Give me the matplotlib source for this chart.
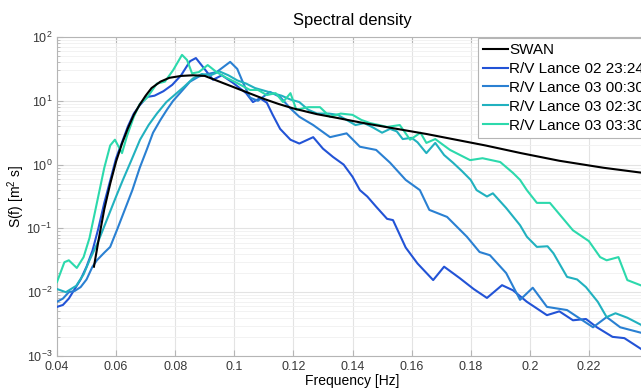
import numpy as np
import matplotlib
matplotlib.use("Agg")
import matplotlib.pyplot as plt
from matplotlib.ticker import LogLocator, NullFormatter

plt.rcParams['font.family'] = ['Liberation Sans', 'DejaVu Sans']
plt.rcParams['mathtext.fontset'] = 'custom'
plt.rcParams['mathtext.rm'] = 'Liberation Sans'
plt.rcParams['mathtext.it'] = 'Liberation Sans:italic'

# SWAN model spectrum (frequency [Hz], log10 S)
swan_f = [0.0525, 0.054, 0.056, 0.058, 0.060, 0.062, 0.064, 0.066,
          0.068, 0.070, 0.072, 0.075, 0.078, 0.082, 0.086, 0.090, 0.095, 0.100,
          0.105, 0.110, 0.115, 0.120, 0.128, 0.135, 0.145, 0.155, 0.165, 0.175,
          0.185, 0.197, 0.210, 0.225, 0.240]
swan_log = [-1.6, -1.2, -0.7, -0.3, 0.05, 0.33, 0.57, 0.78,
            0.94, 1.08, 1.2, 1.3, 1.36, 1.39, 1.40, 1.39, 1.3, 1.21,
            1.12, 1.03, 0.95, 0.88, 0.79, 0.73, 0.64, 0.56, 0.48, 0.39,
            0.30, 0.18, 0.06, -0.05, -0.14]

# R/V Lance 02 23:24
a_f = [0.040, 0.042, 0.044, 0.046, 0.048, 0.050, 0.052, 0.054, 0.056, 0.058,
       0.060, 0.062, 0.064, 0.066, 0.068, 0.0705, 0.073, 0.076, 0.079, 0.082,
       0.085, 0.087, 0.0894, 0.0928, 0.0958, 0.0996, 0.104, 0.1063, 0.1087, 0.111,
       0.113, 0.1155, 0.119, 0.122, 0.1267, 0.130, 0.1334, 0.137, 0.140, 0.1425,
       0.145, 0.148, 0.1517, 0.1537, 0.158, 0.162, 0.1673, 0.171, 0.1763, 0.181,
       0.1855, 0.1906, 0.1943, 0.199, 0.2058, 0.210, 0.2146, 0.219, 0.2227, 0.228,
       0.232, 0.238]
a_log = [-2.23, -2.2, -2.1, -1.95, -1.8, -1.6, -1.35, -1.0, -0.6, -0.25,
         0.1, 0.35, 0.6, 0.8, 0.93, 1.06, 1.08, 1.15, 1.25, 1.4,
         1.62, 1.67, 1.53, 1.33, 1.40, 1.28, 1.12, 0.98, 1.04, 0.97,
         0.78, 0.56, 0.39, 0.33, 0.43, 0.25, 0.12, 0.0, -0.19, -0.40,
         -0.5, -0.66, -0.85, -0.87, -1.3, -1.55, -1.81, -1.6, -1.78, -1.95,
         -2.09, -1.89, -1.97, -2.15, -2.36, -2.30, -2.44, -2.42, -2.55, -2.70,
         -2.72, -2.9]

# R/V Lance 03 00:30
b_f = [0.040, 0.042, 0.044, 0.046, 0.048, 0.050, 0.052, 0.0535, 0.056, 0.058,
       0.0605, 0.063, 0.0655, 0.068, 0.0705, 0.0725, 0.075, 0.0772, 0.0793, 0.0816,
       0.085, 0.088, 0.091, 0.094, 0.0986, 0.101, 0.103, 0.1053, 0.108, 0.112,
       0.1155, 0.119, 0.122, 0.1267, 0.1324, 0.138, 0.1425, 0.148, 0.1527, 0.158,
       0.1628, 0.166, 0.172, 0.1787, 0.183, 0.1865, 0.192, 0.1967, 0.201, 0.2058,
       0.2126, 0.2214, 0.226, 0.2306, 0.238]
b_log = [-2.15, -2.1, -2.0, -1.98, -1.92, -1.8, -1.6, -1.5, -1.38, -1.29,
         -1.0, -0.7, -0.4, -0.05, 0.25, 0.5, 0.7, 0.86, 1.0, 1.12,
         1.3, 1.38, 1.42, 1.45, 1.61, 1.5, 1.28, 1.05, 1.0, 1.14,
         1.06, 0.88, 0.75, 0.62, 0.43, 0.49, 0.28, 0.23, 0.03, -0.24,
         -0.40, -0.71, -0.82, -1.13, -1.37, -1.42, -1.70, -2.12, -1.93, -2.23,
         -2.28, -2.55, -2.39, -2.55, -2.64]

# R/V Lance 03 02:30
c_f = [0.040, 0.043, 0.0465, 0.049, 0.051, 0.054, 0.057, 0.060, 0.0623, 0.065,
       0.0681, 0.071, 0.0738, 0.077, 0.080, 0.083, 0.086, 0.089, 0.092, 0.095,
       0.098, 0.101, 0.104, 0.107, 0.110, 0.113, 0.116, 0.119, 0.122, 0.125,
       0.128, 0.132, 0.135, 0.138, 0.141, 0.144, 0.147, 0.150, 0.1527, 0.155,
       0.157, 0.160, 0.162, 0.165, 0.168, 0.171, 0.174, 0.177, 0.180, 0.182,
       0.1855, 0.1875, 0.192, 0.1967, 0.199, 0.2024, 0.206, 0.208, 0.2126, 0.216,
       0.219, 0.223, 0.226, 0.229, 0.233, 0.238]
c_log = [-1.95, -2.0, -1.9, -1.72, -1.5, -1.2, -0.85, -0.5, -0.24, 0.05,
         0.39, 0.62, 0.8, 0.98, 1.1, 1.22, 1.35, 1.42, 1.40, 1.46,
         1.40, 1.32, 1.27, 1.2, 1.16, 1.12, 1.08, 1.02, 0.98, 0.86,
         0.80, 0.80, 0.78, 0.70, 0.62, 0.65, 0.58, 0.50, 0.56, 0.52,
         0.40, 0.42, 0.35, 0.18, 0.34, 0.15, 0.03, -0.1, -0.24, -0.40,
         -0.50, -0.45, -0.68, -0.95, -1.13, -1.29, -1.28, -1.39, -1.76, -1.8,
         -1.92, -2.15, -2.39, -2.33, -2.40, -2.52]

# R/V Lance 03 03:30
d_f = [0.040, 0.0425, 0.044, 0.0467, 0.049, 0.051, 0.0535, 0.056, 0.058, 0.0596,
       0.062, 0.0637, 0.066, 0.068, 0.0705, 0.0738, 0.0765, 0.0793, 0.0823, 0.084,
       0.0857, 0.088, 0.091, 0.094, 0.0969, 0.1009, 0.1053, 0.108, 0.111, 0.114,
       0.1165, 0.119, 0.121, 0.125, 0.129, 0.1324, 0.136, 0.140, 0.143, 0.146,
       0.149, 0.1517, 0.156, 0.1595, 0.163, 0.165, 0.168, 0.173, 0.1798, 0.184,
       0.190, 0.1943, 0.1967, 0.199, 0.2024, 0.2068, 0.2146, 0.220, 0.2238, 0.226,
       0.230, 0.233, 0.238]
d_log = [-1.84, -1.53, -1.5, -1.62, -1.45, -1.15, -0.6, -0.05, 0.3, 0.39,
         0.18, 0.45, 0.75, 0.95, 1.05, 1.27, 1.3, 1.48, 1.72, 1.64,
         1.43, 1.45, 1.56, 1.45, 1.37, 1.28, 1.17, 1.17, 1.09, 1.12,
         0.98, 1.12, 0.86, 0.9, 0.9, 0.75, 0.8, 0.78, 0.7, 0.65,
         0.62, 0.59, 0.62, 0.39, 0.5, 0.34, 0.40, 0.23, 0.07, 0.1,
         0.04, -0.13, -0.24, -0.4, -0.6, -0.6, -1.03, -1.2, -1.45, -1.5,
         -1.45, -1.81, -1.9]

labels = ["SWAN", "R/V Lance 02 23:24", "R/V Lance 03 00:30",
          "R/V Lance 03 02:30", "R/V Lance 03 03:30"]
colors = ["black", "#2253d6", "#2a80d2", "#21b1bf", "#2cd9ac"]
xtick_vals = [0.04, 0.06, 0.08, 0.10, 0.12, 0.14, 0.16, 0.18, 0.20, 0.22]
xtick_labels = ["0.04", "0.06", "0.08", "0.1", "0.12", "0.14", "0.16", "0.18", "0.2", "0.22"]

fig = plt.figure(figsize=(6.41, 3.88), dpi=100)
ax = fig.add_axes([57 / 641, 32 / 388, 591 / 641, 319 / 388])

series = [(swan_f, swan_log), (a_f, a_log), (b_f, b_log), (c_f, c_log), (d_f, d_log)]
for i, ((f, lg), lab, col) in enumerate(zip(series, labels, colors)):
    z = 5 if i == 0 else 3
    ax.plot(f, np.power(10.0, lg), color=col, lw=1.5, label=lab, zorder=z)

ax.set_yscale("log")
ax.set_xlim(0.04, 0.24)
ax.set_ylim(1e-3, 1e2)
ax.set_xticks(xtick_vals)
ax.set_xticklabels(xtick_labels)
ax.yaxis.set_major_locator(LogLocator(base=10, numticks=10))
ax.yaxis.set_minor_locator(LogLocator(base=10, subs=np.arange(2, 10), numticks=20))
ax.yaxis.set_minor_formatter(NullFormatter())

ax.grid(True, which="major", color="#e3e3e3", lw=0.8)
ax.grid(True, which="minor", axis="y", color="#f0f0f0", lw=0.6)
ax.set_axisbelow(True)
for s in ax.spines.values():
    s.set_color("#b5b5b5")
    s.set_linewidth(0.8)
ax.tick_params(which="both", direction="in", colors="#b5b5b5", labelcolor="#383838",
               labelsize=9, top=True, right=True)
ax.tick_params(which="major", length=4)
ax.tick_params(which="minor", length=2)

ax.set_title("Spectral density", fontsize=12, pad=9)
ax.set_xlabel("Frequency [Hz]", fontsize=10, labelpad=1)
ax.set_ylabel("S(f) [m$^2$ s]", fontsize=10)
ax.yaxis.set_label_coords(-0.05, 0.5)

leg = ax.legend(loc="upper left", bbox_to_anchor=(0.712, 0.998), fontsize=11,
                handlelength=1.6, handletextpad=0.1, labelspacing=0.32,
                borderpad=0.35, fancybox=False, framealpha=1, edgecolor="#b5b5b5",
                borderaxespad=0)
leg.get_frame().set_linewidth(0.8)

fig.savefig("out.png", dpi=100)
